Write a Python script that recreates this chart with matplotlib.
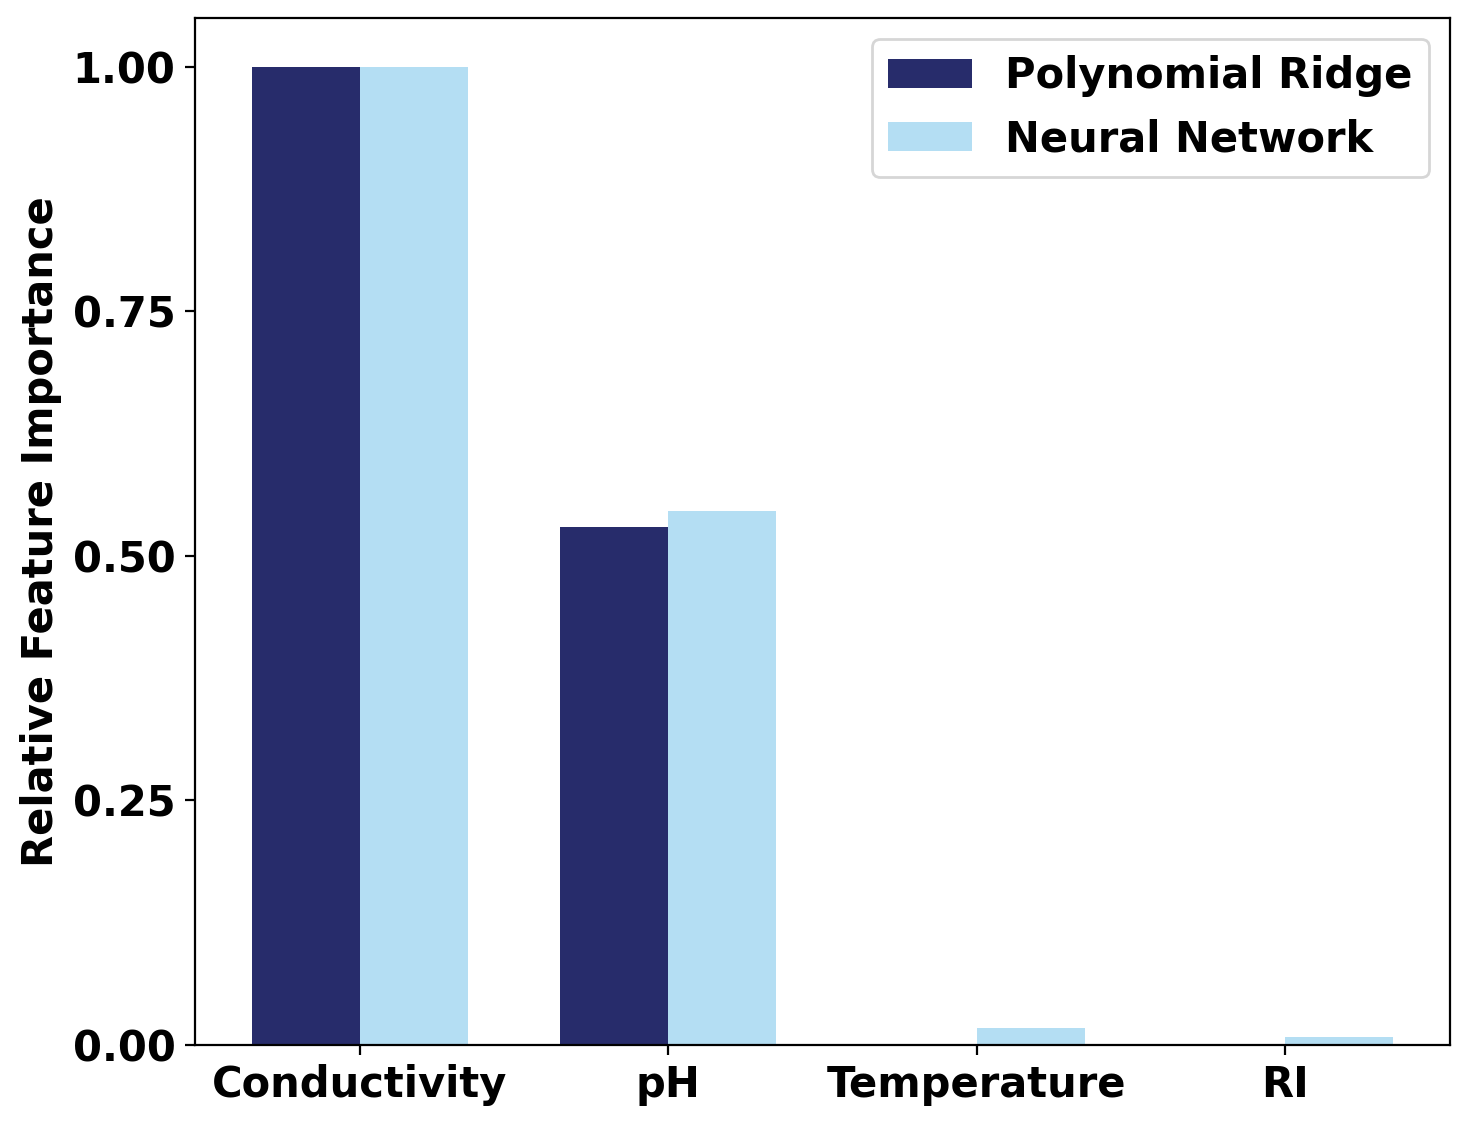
import numpy as np
import matplotlib.pyplot as plt

features = ["Conductivity", "pH", "Temperature", "RI"]
poly_ridge = [1.0, 0.530, 0.0, 0.0]
neural_net = [1.0, 0.546, 0.0177, 0.0079]

fig, ax = plt.subplots(figsize=(7.37, 5.715), dpi=200)
fig.subplots_adjust(left=0.1323, right=0.9837, top=0.9843, bottom=0.0857)

x = np.arange(len(features))
width = 0.35
ax.bar(x - width, poly_ridge, width, align='edge', color='#272C6B', label='Polynomial Ridge')
ax.bar(x, neural_net, width, align='edge', color='#B4DEF3', label='Neural Network')

ax.set_xticks(x)
ax.set_xticklabels(features, fontsize=15, fontweight='bold')
ax.set_yticks([0, 0.25, 0.5, 0.75, 1.0])
ax.set_yticklabels([f"{v:.2f}" for v in [0, 0.25, 0.5, 0.75, 1.0]], fontsize=15, fontweight='bold')
ax.set_ylabel("Relative Feature Importance", fontsize=15, fontweight='bold')

ax.legend(prop={'size': 15, 'weight': 'bold'})

plt.savefig("out.png")
